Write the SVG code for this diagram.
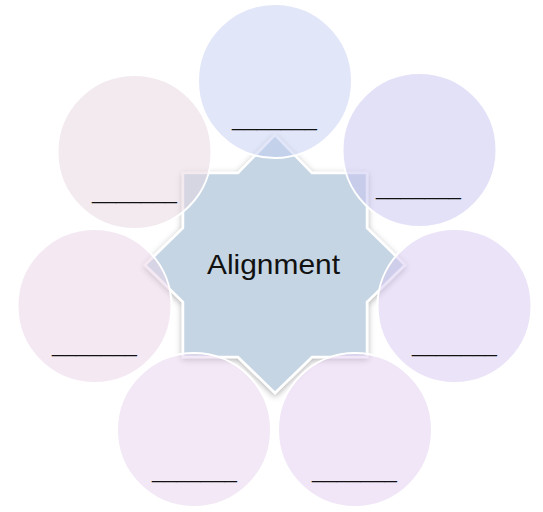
<svg xmlns="http://www.w3.org/2000/svg" width="543" height="512" viewBox="0 0 543 512">
<defs>
<filter id="sh" x="-20%" y="-20%" width="140%" height="140%">
<feDropShadow dx="0" dy="2" stdDeviation="3" flood-color="#000" flood-opacity="0.3"/>
</filter>
</defs>
<style>
.c{stroke:#fff;stroke-width:2;fill-opacity:0.5}
.u{font-family:"Liberation Sans",Arial,sans-serif;font-size:22px;fill:#111;text-anchor:middle}
.t{font-family:"Liberation Sans",Arial,sans-serif;font-size:28px;fill:#111;text-anchor:middle}
</style>
<rect width="543" height="512" fill="#fff"/>
<g id="center">
<path d="M275,135 L312,173 L367,173 L367,228 L405,265 L367,302 L367,357 L312,357 L275,393 L238,357 L183,357 L183,302 L145,265 L183,228 L183,173 L238,173 Z" fill="#C5D5E3" stroke="#fff" stroke-width="2.5" filter="url(#sh)"/>
</g>
<g id="n1"><circle class="c" cx="275" cy="81" r="77" fill="#C3CDF3"/><text class="u" x="274.5" y="126" textLength="85" lengthAdjust="spacingAndGlyphs">_______</text></g>
<g id="n2"><circle class="c" cx="419.5" cy="150" r="77" fill="#C7C3F1"/><text class="u" x="418.5" y="195" textLength="85" lengthAdjust="spacingAndGlyphs">_______</text></g>
<g id="n3"><circle class="c" cx="454.5" cy="306" r="77" fill="#D7C7F1"/><text class="u" x="454.5" y="352" textLength="85" lengthAdjust="spacingAndGlyphs">_______</text></g>
<g id="n4"><circle class="c" cx="355" cy="430" r="77" fill="#E3CDEF"/><text class="u" x="354.5" y="478" textLength="85" lengthAdjust="spacingAndGlyphs">_______</text></g>
<g id="n5"><circle class="c" cx="194" cy="430" r="77" fill="#E7D1ED"/><text class="u" x="194.5" y="478" textLength="85" lengthAdjust="spacingAndGlyphs">_______</text></g>
<g id="n6"><circle class="c" cx="94.5" cy="306" r="77" fill="#E9D3E7"/><text class="u" x="94.5" y="352" textLength="85" lengthAdjust="spacingAndGlyphs">_______</text></g>
<g id="n7"><circle class="c" cx="134.5" cy="152" r="77" fill="#E7D5E1"/><text class="u" x="134.5" y="199" textLength="85" lengthAdjust="spacingAndGlyphs">_______</text></g>
<g id="label"><text class="t" x="273.5" y="274" textLength="133" lengthAdjust="spacingAndGlyphs">Alignment</text></g>
<g id="connectors"></g>
</svg>
